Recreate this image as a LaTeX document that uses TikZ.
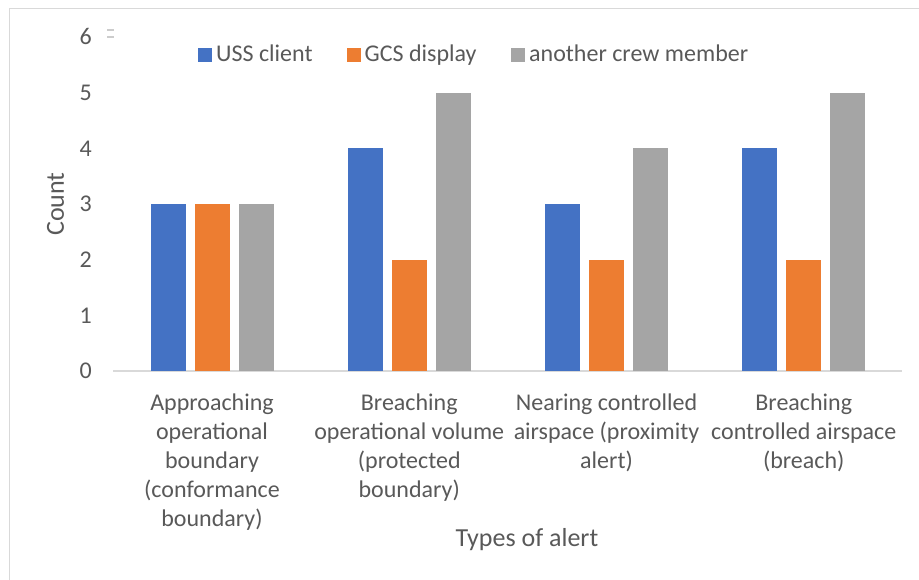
\documentclass[tikz,border=0pt]{standalone}
\usepackage{fontspec}
\setmainfont{Carlito}
\definecolor{txt}{HTML}{595959}
\definecolor{bblue}{HTML}{4472C4}
\definecolor{borange}{HTML}{ED7D31}
\definecolor{bgray}{HTML}{A5A5A5}
\definecolor{gridc}{HTML}{D9D9D9}
\definecolor{markc}{HTML}{CCCCCC}
\begin{document}
\begin{tikzpicture}[x=1pt,y=-1pt,
  lbl/.style={text=txt,font=\fontsize{24}{29}\selectfont,inner sep=0pt},
  ttl/.style={text=txt,font=\fontsize{26}{31}\selectfont,inner sep=0pt},
  key/.style={fill=#1,minimum size=14pt,inner sep=0pt,outer sep=0pt},
  frameline/.style={gridc,line width=1.5pt},
  markline/.style={markc,line width=2pt},
  axisline/.style={gridc,line width=1.3pt},
]
\useasboundingbox (0,0) rectangle (919,580);
% outer frame (left and top edges)
\draw[frameline] (9.5,580) -- (9.5,8.5) -- (919,8.5);
% small mark near top tick
\draw[markline] (107,30.5) -- (114,30.5) (107,37) -- (114,37);
% axis
\coordinate (ax0) at (113,371);
\coordinate (ax1) at (902,371);
\draw[axisline] (ax0) -- (ax1);
% bars
\foreach \g/\a/\b/\c in {0/3/3/3,1/4/2/5,2/3/2/4,3/4/2/5}{
  \pgfmathsetmacro\cx{212+197.25*\g}
  \fill[bblue]   (\cx-61.5,371) rectangle (\cx-26.5,371-55.67*\a);
  \fill[borange] (\cx-17.5,371) rectangle (\cx+17.5,371-55.67*\b);
  \fill[bgray]   (\cx+26.5,371) rectangle (\cx+61.5,371-55.67*\c);
}
% tick labels
\foreach \v in {0,...,6}{
  \node[lbl,anchor=east] (t\v) at (92,371-55.67*\v) {\v};
}
% axis titles
\node[ttl,rotate=90] (ytitle) at (55.5,204) {Count};
\node[ttl,anchor=base] (xtitle) at (527,546.5) {Types of alert};
% category labels
\node[lbl,align=center,anchor=north] (c1) at (212,390)
  {\rule{0pt}{20pt}Approaching\\operational\\boundary\\(conformance\\boundary)};
\node[lbl,align=center,anchor=north] (c2) at (409.25,390)
  {\rule{0pt}{20pt}Breaching\\operational volume\\(protected\\boundary)};
\node[lbl,align=center,anchor=north] (c3) at (606.5,390)
  {\rule{0pt}{20pt}Nearing controlled\\airspace (proximity\\alert)};
\node[lbl,align=center,anchor=north] (c4) at (803.75,390)
  {\rule{0pt}{20pt}Breaching\\controlled airspace\\(breach)};
% legend
\node[key=bblue] (k1) at (205,55) {};
\node[lbl,anchor=base west] (l1) at (216,62) {USS client};
\node[key=borange] (k2) at (354,55) {};
\node[lbl,anchor=base west] (l2) at (364.5,62) {GCS display};
\node[key=bgray] (k3) at (518,55) {};
\node[lbl,anchor=base west] (l3) at (529,62) {another crew member};
\end{tikzpicture}
\end{document}
